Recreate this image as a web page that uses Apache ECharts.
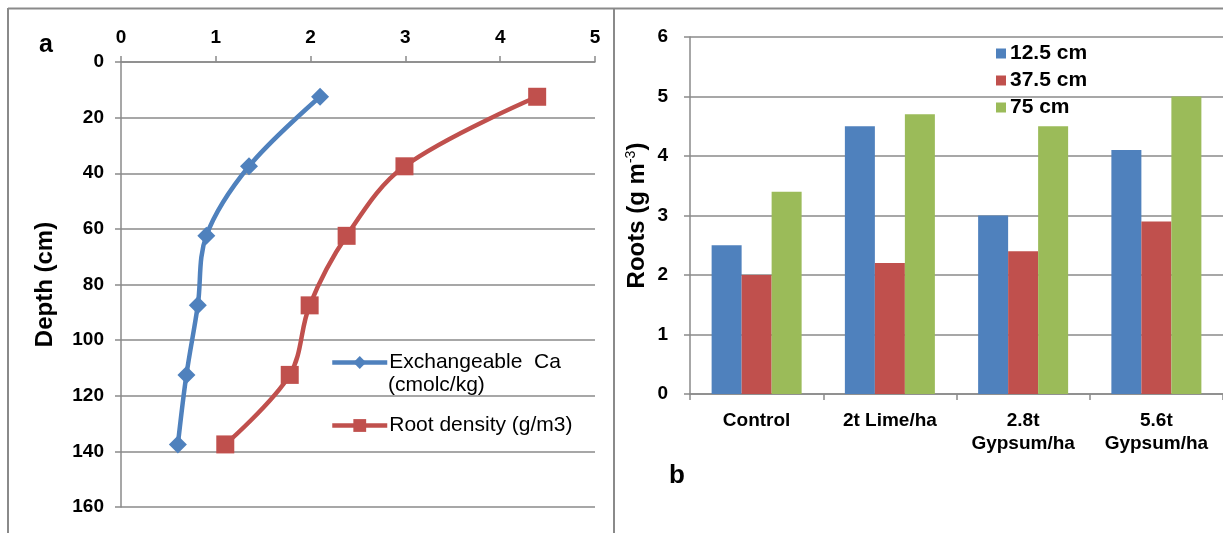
<!DOCTYPE html>
<html>
<head>
<meta charset="utf-8">
<script src="https://cdn.jsdelivr.net/npm/echarts@6/dist/echarts.min.js"></script>
<style>
  html, body { margin: 0; padding: 0; background: #fff; }
  #main { width: 1223px; height: 533px; }
</style>
</head>
<body>
<div id="main"></div>
<script>
// panel a: depth profile
var depths = [12.5, 37.5, 62.5, 87.5, 112.5, 137.5];
var exchCa = [2.1, 1.35, 0.9, 0.81, 0.69, 0.6];
var rootDensity = [4.39, 2.99, 2.38, 1.99, 1.78, 1.1];

// panel b: roots by treatment
var treatments = ['Control', '2t Lime/ha', '2.8t\nGypsum/ha', '5.6t\nGypsum/ha'];
var roots125 = [2.5, 4.5, 3.0, 4.1];
var roots375 = [2.0, 2.2, 2.4, 2.9];
var roots75 = [3.4, 4.7, 4.5, 5.0];

var font = '"Liberation Sans", Arial, sans-serif';
var gridColor = '#8a8a8a';
var blue = '#4F81BD', red = '#C0504D', green = '#9BBB59';

function pairs(xs) {
    var out = [];
    for (var i = 0; i < depths.length; i++) out.push([xs[i], depths[i]]);
    return out;
}

var labelStyle = { color: '#000', fontFamily: font, fontWeight: 'bold', fontSize: 19 };
var axisLn = { show: true, lineStyle: { color: gridColor, width: 1.5 } };
var tick = { show: true, length: 6, lineStyle: { color: gridColor, width: 1.5 } };

var chart = echarts.init(document.getElementById('main'));
chart.setOption({
    animation: false,
    backgroundColor: '#fff',
    grid: [
        { left: 121, right: 628, top: 62, bottom: 26 },
        { left: 690, right: -2, top: 37, bottom: 139 }
    ],
    legend: [
        {
            data: ['Exchangeable  Ca', 'Root density (g/m3)'],
            orient: 'vertical',
            left: 325, top: 347,
            itemWidth: 55, itemHeight: 16, itemGap: 42,
            lineStyle: { width: 4.5 },
            textStyle: { color: '#000', fontFamily: font, fontSize: 21, padding: [0, 0, 0, -3] }
        },
        {
            data: ['12.5 cm', '37.5 cm', '75 cm'],
            orient: 'vertical',
            left: 991, top: 38,
            icon: 'rect',
            itemWidth: 10, itemHeight: 10, itemGap: 6,
            textStyle: { color: '#000', fontFamily: font, fontSize: 21, fontWeight: 'bold', padding: [0, 0, 0, -1] }
        }
    ],
    xAxis: [
        {
            gridIndex: 0, type: 'value', position: 'top', min: 0, max: 5, interval: 1,
            axisLine: axisLn, axisTick: tick,
            splitLine: { show: false },
            axisLabel: Object.assign({ margin: 15 }, labelStyle)
        },
        {
            gridIndex: 1, type: 'category', data: treatments,
            axisLine: axisLn, axisTick: tick,
            axisLabel: Object.assign({ margin: 15, lineHeight: 23, interval: 0 }, labelStyle)
        }
    ],
    yAxis: [
        {
            gridIndex: 0, type: 'value', inverse: true, min: 0, max: 160, interval: 20,
            name: 'Depth (cm)', nameLocation: 'middle', nameGap: 64,
            nameTextStyle: { color: '#000', fontFamily: font, fontWeight: 'bold', fontSize: 24 },
            axisLine: axisLn, axisTick: tick,
            splitLine: { show: true, lineStyle: { color: gridColor, width: 1.5 } },
            axisLabel: Object.assign({ margin: 17 }, labelStyle)
        },
        {
            gridIndex: 1, type: 'value', min: 0, max: 6, interval: 1,
            name: '{n|Roots (g m}{s|-3}{n|)}', nameLocation: 'middle', nameGap: 40,
            nameTextStyle: {
                rich: {
                    n: { color: '#000', fontFamily: font, fontWeight: 'bold', fontSize: 24 },
                    s: { color: '#000', fontFamily: font, fontSize: 14, padding: [0, 0, 12, 0] }
                }
            },
            axisLine: axisLn, axisTick: tick,
            splitLine: { show: true, lineStyle: { color: gridColor, width: 1.5 } },
            axisLabel: Object.assign({ margin: 22 }, labelStyle)
        }
    ],
    series: [
        {
            name: 'Exchangeable  Ca', type: 'line', xAxisIndex: 0, yAxisIndex: 0,
            data: pairs(exchCa), smooth: 0.35,
            symbol: 'diamond', symbolSize: 18,
            lineStyle: { color: blue, width: 4.5 }, itemStyle: { color: blue }
        },
        {
            name: 'Root density (g/m3)', type: 'line', xAxisIndex: 0, yAxisIndex: 0,
            data: pairs(rootDensity), smooth: 0.35,
            symbol: 'rect', symbolSize: 18,
            lineStyle: { color: red, width: 4.5 }, itemStyle: { color: red }
        },
        {
            name: '12.5 cm', type: 'bar', xAxisIndex: 1, yAxisIndex: 1, data: roots125,
            itemStyle: { color: blue }, barWidth: 30, barGap: '0%'
        },
        {
            name: '37.5 cm', type: 'bar', xAxisIndex: 1, yAxisIndex: 1, data: roots375,
            itemStyle: { color: red }, barWidth: 30, barGap: '0%'
        },
        {
            name: '75 cm', type: 'bar', xAxisIndex: 1, yAxisIndex: 1, data: roots75,
            itemStyle: { color: green }, barWidth: 30, barGap: '0%'
        }
    ],
    graphic: [
        { type: 'line', shape: { x1: 8, y1: 8.5, x2: 1223, y2: 8.5 }, style: { stroke: gridColor, lineWidth: 2 } },
        { type: 'line', shape: { x1: 8, y1: 8, x2: 8, y2: 533 }, style: { stroke: gridColor, lineWidth: 2 } },
        { type: 'line', shape: { x1: 614, y1: 8, x2: 614, y2: 533 }, style: { stroke: gridColor, lineWidth: 2 } },
        // second line of the first legend entry
        { type: 'text', left: 388, top: 375, style: { text: '(cmolc/kg)', fill: '#000', font: '21px ' + font } },
        { type: 'text', left: 39, top: 33, style: { text: 'a', fill: '#000', font: 'bold 25px ' + font } },
        { type: 'text', left: 669, top: 463, style: { text: 'b', fill: '#000', font: 'bold 26px ' + font } }
    ]
});
</script>
</body>
</html>
